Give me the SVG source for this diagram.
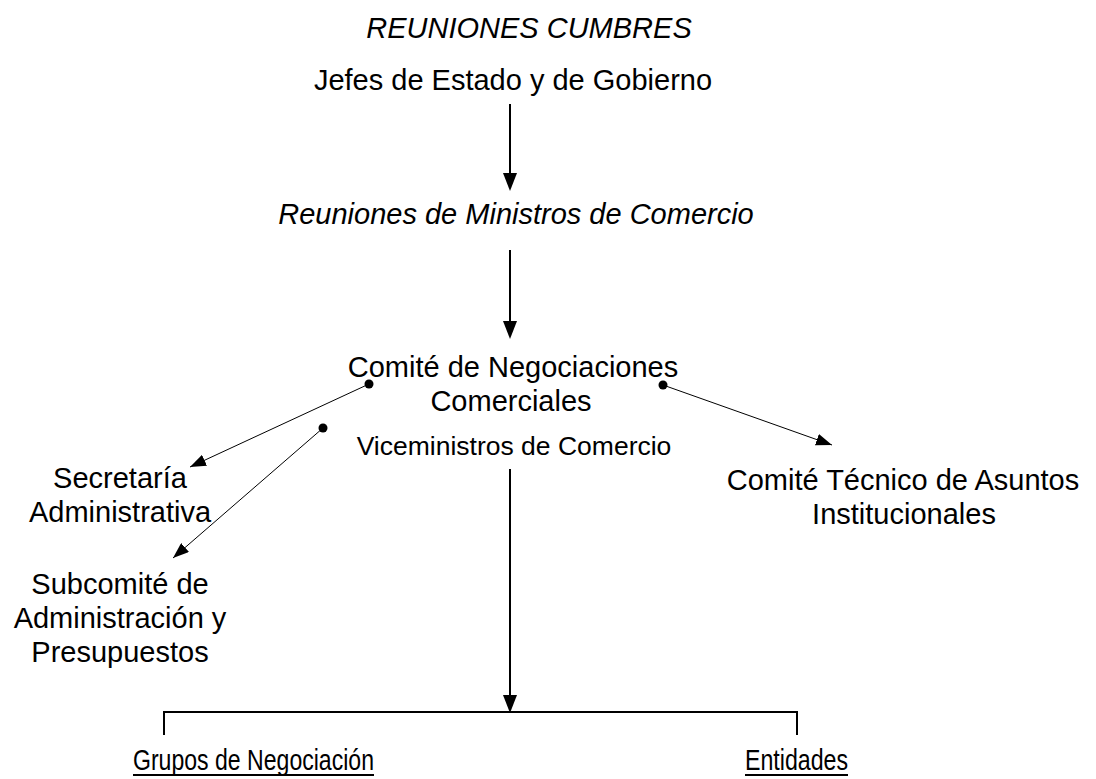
<svg xmlns="http://www.w3.org/2000/svg" width="1096" height="779" viewBox="0 0 1096 779">
<style>
text{font-family:"Liberation Sans",Arial,sans-serif;font-size:29px;fill:#000;text-anchor:middle}
.it{font-style:italic}
.sm{font-size:26.5px}
.narrow{text-anchor:start}
.thick{stroke:#000;stroke-width:2;fill:none}
.thin{stroke:#000;stroke-width:1;fill:none}
</style>
<defs>
<marker id="bigArrow" markerUnits="userSpaceOnUse" markerWidth="14" markerHeight="18" viewBox="0 0 14 18" refX="7" refY="18" orient="auto-start-reverse">
<path d="M0,0 L14,0 L7,18 Z" fill="#000" transform="rotate(0)"/>
</marker>
<marker id="smallArrow" markerUnits="userSpaceOnUse" markerWidth="16" markerHeight="12" viewBox="0 0 16 12" refX="16" refY="6" orient="auto">
<path d="M0,0 L16,6 L0,12 Z" fill="#000"/>
</marker>
</defs>
<rect width="1096" height="779" fill="#fff"/>
<g id="title"><text class="it" x="529" y="38">REUNIONES CUMBRES</text></g>
<g id="jefes"><text x="513" y="90">Jefes de Estado y de Gobierno</text></g>
<g id="ministros"><text class="it" x="516" y="224">Reuniones de Ministros de Comercio</text></g>
<g id="comite"><text x="513" y="377">Comité de Negociaciones</text><text x="511" y="411">Comerciales</text></g>
<g id="viceministros"><text class="sm" x="514" y="455">Viceministros de Comercio</text></g>
<g id="secretaria"><text x="120" y="488">Secretaría</text><text x="120" y="522">Administrativa</text></g>
<g id="subcomite"><text x="120" y="594">Subcomité de</text><text x="120" y="628">Administración y</text><text x="120" y="662">Presupuestos</text></g>
<g id="tecnico"><text x="903" y="490">Comité Técnico de Asuntos</text><text x="904" y="524">Institucionales</text></g>
<g id="grupos"><text class="narrow" x="133" y="770" textLength="241" lengthAdjust="spacingAndGlyphs">Grupos de Negociación</text><line x1="133" y1="775" x2="374" y2="775" stroke="#000" stroke-width="2"/></g>
<g id="entidades"><text class="narrow" x="745" y="770" textLength="103" lengthAdjust="spacingAndGlyphs">Entidades</text><line x1="745" y1="775" x2="848" y2="775" stroke="#000" stroke-width="2"/></g>
<g id="connectors">
<path class="thick" d="M510,104 V174"/>
<path d="M503,173 L517,173 L510,191 Z" fill="#000"/>
<path class="thick" d="M510,250 V322"/>
<path d="M503,321 L517,321 L510,339 Z" fill="#000"/>
<path class="thick" d="M510,469 V696"/>
<path d="M503,695 L517,695 L510,713 Z" fill="#000"/>
<path class="thick" d="M164,735 V712 H797 V735"/>
<line class="thin" x1="369" y1="384" x2="190" y2="467" marker-end="url(#smallArrow)"/>
<line class="thin" x1="323" y1="428" x2="173" y2="558" marker-end="url(#smallArrow)"/>
<line class="thin" x1="663" y1="385" x2="832" y2="445" marker-end="url(#smallArrow)"/>
<circle cx="369" cy="384" r="4.5" fill="#000"/>
<circle cx="323" cy="428" r="4.5" fill="#000"/>
<circle cx="663" cy="385" r="4.5" fill="#000"/>
</g>
</svg>
